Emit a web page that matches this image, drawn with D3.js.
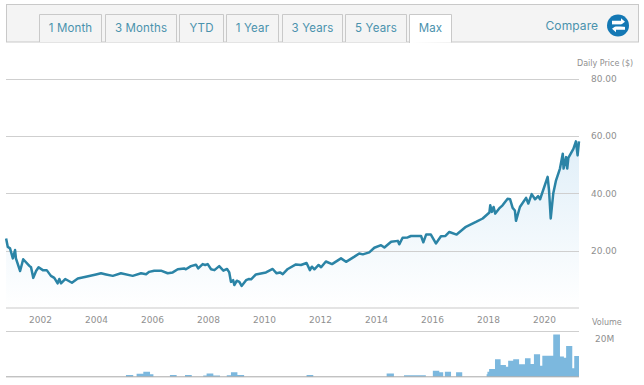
<!DOCTYPE html>
<html><head><meta charset="utf-8">
<script src="https://cdn.jsdelivr.net/npm/d3@7"></script>
<style>html,body{margin:0;padding:0;background:#fff}svg{display:block}
.axt{font-family:"DejaVu Sans",sans-serif;fill:#8f8f8f}
.tab{font-family:"Inter","Open Sans",sans-serif;fill:#4a92ad}
</style></head><body><svg id="c" width="644" height="385"></svg>
<script>
const tabLabels=["1 Month","3 Months","YTD","1 Year","3 Years","5 Years","Max"];
const xTickYears=[2002,2004,2006,2008,2010,2012,2014,2016,2018,2020];
const priceTicks=[20,40,60,80];
const priceYears=[2000.79,2000.85,2000.93,2001.03,2001.11,2001.14,2001.29,2001.40,2001.62,2001.68,2001.76,2001.86,2001.95,2002.10,2002.24,2002.39,2002.51,2002.63,2002.69,2002.75,2002.90,2003.14,2003.35,2003.64,2004.0,2004.18,2004.36,2004.60,2004.89,2005.31,2005.61,2005.79,2005.90,2006.08,2006.32,2006.56,2006.74,2006.92,2007.15,2007.21,2007.39,2007.57,2007.65,2007.81,2007.90,2007.99,2008.11,2008.23,2008.40,2008.55,2008.68,2008.76,2008.82,2008.90,2008.94,2009.03,2009.12,2009.20,2009.36,2009.45,2009.54,2009.71,2010.07,2010.31,2010.45,2010.57,2010.67,2010.85,2011.14,2011.32,2011.52,2011.64,2011.71,2011.80,2011.95,2012.04,2012.21,2012.43,2012.75,2012.93,2013.23,2013.40,2013.53,2013.76,2013.94,2014.18,2014.30,2014.54,2014.78,2014.83,2014.95,2015.13,2015.25,2015.61,2015.69,2015.79,2015.96,2016.14,2016.32,2016.48,2016.62,2016.88,2017.21,2017.57,2017.81,2018.05,2018.08,2018.14,2018.20,2018.26,2018.40,2018.52,2018.70,2018.79,2018.88,2018.96,2019.0,2019.14,2019.36,2019.44,2019.56,2019.68,2019.79,2019.86,2020.13,2020.18,2020.24,2020.33,2020.43,2020.57,2020.67,2020.70,2020.79,2020.83,2020.87,2021.05,2021.14,2021.20,2021.25];
const priceValues=[24.2,21.3,20.8,17.3,20.2,17.3,12.9,17,14.7,14.2,10.5,12.9,14.2,13.2,13.2,11.2,10.5,8.6,10.1,8.6,10.1,8.8,10.3,10.9,11.7,12.1,11.7,11.2,12.1,11.2,12.1,11.8,12.6,13,13,12.1,12.4,13.5,13.8,13.5,14.6,15.1,13.8,15.3,15,15.3,13.5,13.2,14.6,13,13.6,12.4,9.1,9.7,8,9.5,9.1,7.7,9.7,10.1,10,11.7,12.4,13.6,12.1,12.4,11.8,13.6,15.2,15,15.7,13.2,14.4,13.5,15,14.2,16.2,15.3,17.3,16.1,17.9,19,18.7,19.4,21,21.9,21.1,23.1,23.4,22.2,24.5,24.6,25.1,25.1,22.9,25.6,25.6,22.5,25,25.1,26.5,25.6,28.3,30,31.2,33.3,35.8,33.5,35.2,32.9,34.7,35.8,38.1,37.9,34.9,34,30.4,35.2,38.4,36.4,39.7,37.9,39,37.9,45.7,41,31.2,39.9,44.5,48.6,53.8,48.6,52.6,48.6,52.3,55.5,58.1,53.2,58.1];
const volumeYears=[2005.07,2005.33,2005.45,2005.69,2005.93,2006.05,2006.64,2006.88,2007.18,2007.42,2007.83,2007.95,2008.19,2008.43,2008.67,2008.82,2009.05,2009.29,2011.52,2011.76,2014.38,2014.64,2015.0,2015.78,2016.03,2016.26,2016.4,2016.46,2016.68,2016.86,2017.08,2017.95,2017.98,2018.04,2018.25,2018.45,2018.64,2018.72,2018.9,2019.11,2019.32,2019.52,2019.64,2019.86,2019.94,2020.33,2020.57,2020.71,2020.79,2021.01,2021.08,2021.25];
const volumeValues=[0.9,0,1.5,2.6,1.2,0,0.9,0,0.9,0,0.6,1.7,0.6,0,0.8,2.3,0.9,0,0.9,0,1.7,0,0.7,0,3,2.3,0,2.6,0,2.3,0,1.2,2.5,3.9,8.9,6,5.1,8.2,8.9,6.4,9.4,6.5,11.5,5.6,10.8,21.7,10.3,9.7,15.7,4.3,10.6,10.6];

const tabEdges=[[39.5,101.5],[105.5,176.5],[179.5,223.5],[226.5,278.5],[282.5,342.5],[345.5,406.5],[409.5,451.5]];
const svg=d3.select("#c");
const x=d3.scaleLinear().domain([2000.786,2021.25]).range([6,579]);
const y=d3.scaleLinear().domain([0,80]).range([308,78.5]);
const yV=d3.scaleLinear().domain([0,20]).range([376.7,337.7]);

// header
svg.append("rect").attr("x",6.5).attr("y",4.5).attr("width",632).attr("height",37.5).attr("fill","#f4f4f4").attr("stroke","#c9c9c9");
tabLabels.forEach((t,i)=>{
  const [a,b]=tabEdges[i],active=i===tabLabels.length-1;
  svg.append("path").attr("d",`M${a},${active?43:42}V14.5H${b}V${active?42.5:42}`).attr("fill",active?"#fff":"#f4f4f4").attr("stroke","#c9c9c9");
  svg.append("text").attr("class","tab").attr("x",(a+b)/2).attr("y",32).attr("text-anchor","middle").attr("font-size",11.5).attr("letter-spacing",0.15).text(t);
});
svg.append("text").attr("class","tab").attr("x",545.5).attr("y",29.5).attr("font-size",12).attr("letter-spacing",0.1).text("Compare");
svg.append("circle").attr("cx",618).attr("cy",25.5).attr("r",11).attr("fill","#1478b4");
svg.append("path").attr("d","M612,21H621V18.5L625,22L621,25H612Z M625,27H616V25.5 M616,27H625V30H616V32.5L612,29L616,26Z").attr("fill","#fff").attr("transform","translate(0,-0.2)");
svg.append("line").attr("x1",610).attr("x2",626).attr("y1",25.5).attr("y2",25.5).attr("stroke","#1478b4").attr("stroke-width",2);

// gradient
const defs=svg.append("defs");
const g=defs.append("linearGradient").attr("id","f").attr("gradientUnits","userSpaceOnUse").attr("x1",0).attr("x2",0).attr("y1",136).attr("y2",308);
g.append("stop").attr("offset",0).attr("stop-color","#dfeef8");
g.append("stop").attr("offset",1).attr("stop-color","#ffffff");

const price=priceYears.map((d,i)=>[d,priceValues[i]]);
svg.append("path").attr("d",d3.area().x(d=>x(d[0])).y0(y(0)).y1(d=>y(d[1]))(price)).attr("fill","url(#f)");

// grid
svg.append("g").selectAll("line").data(priceTicks).join("line")
  .attr("x1",6).attr("x2",579).attr("y1",d=>Math.round(y(d))+.5).attr("y2",d=>Math.round(y(d))+.5).attr("stroke","#cfcfcf");
svg.append("line").attr("x1",6).attr("x2",579).attr("y1",308).attr("y2",308).attr("stroke","#e4e4e4").attr("stroke-width",2);
svg.append("path").attr("d",d3.line().x(d=>x(d[0])).y(d=>y(d[1]))(price)).attr("fill","none").attr("stroke","#2b84a6").attr("stroke-width",2.5).attr("stroke-linejoin","round");

// axes
const ax=svg.append("g").attr("transform","translate(0,308)").call(d3.axisBottom(x).tickValues(xTickYears).tickFormat(d3.format("d")).tickSize(0).tickPadding(9));
ax.select(".domain").remove();
ax.selectAll("text").attr("class","axt").attr("font-size",9).attr("font-family",null);
const ay=svg.append("g").attr("transform","translate(579,0)").call(d3.axisRight(y).tickValues(priceTicks).tickFormat(d3.format(".2f")).tickSize(0).tickPadding(12));
ay.select(".domain").remove();
ay.selectAll("text").attr("class","axt").attr("font-size",9).attr("font-family",null);
svg.append("text").attr("class","axt").attr("x",577).attr("y",66).attr("font-size",8).text("Daily Price ($)");
svg.append("text").attr("class","axt").attr("x",592).attr("y",325).attr("font-size",8).text("Volume");
svg.append("text").attr("class","axt").attr("x",595).attr("y",341.5).attr("font-size",9).text("20M");

// volume
svg.append("line").attr("x1",6).attr("x2",579).attr("y1",331.5).attr("y2",331.5).attr("stroke","#cfcfcf");
const vol=volumeYears.map((d,i)=>[d,volumeValues[i]]);
svg.append("path").attr("d",d3.area().curve(d3.curveStepAfter).x(d=>x(d[0])).y0(yV(0)).y1(d=>yV(d[1]))(vol)).attr("fill","#7cb8de");
svg.append("line").attr("x1",6).attr("x2",579).attr("y1",376.8).attr("y2",376.8).attr("stroke","#a8a8a8");
</script></body></html>
